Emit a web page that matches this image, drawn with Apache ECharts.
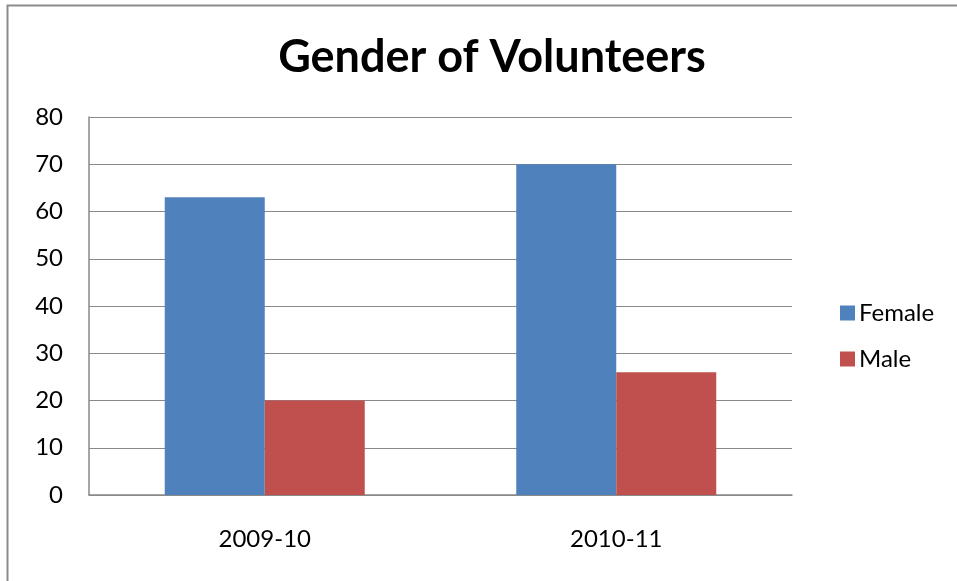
<!DOCTYPE html>
<html>
<head>
<meta charset="utf-8">
<script src="https://cdn.jsdelivr.net/npm/echarts@6/dist/echarts.min.js"></script>
<style>
  html, body { margin: 0; padding: 0; background: #fff; }
  #chart { width: 957px; height: 581px; }
</style>
</head>
<body>
<div id="chart"></div>
<script>
var categories = ["2009-10", "2010-11"];
var female = [63, 70];
var male = [20, 26];
var yTicks = [0, 10, 20, 30, 40, 50, 60, 70, 80];

var font = "Lato";
var myChart = echarts.init(document.getElementById("chart"));

var option = {
    backgroundColor: "#fff",
    animation: false,
    graphic: [
        {
            // outer chart border
            type: "rect",
            shape: { x: 7.5, y: 5.5, width: 980, height: 600 },
            style: { fill: "none", stroke: "#8c8c8c", lineWidth: 2 }
        }
    ],
    title: {
        text: "Gender of Volunteers",
        left: 487,
        textAlign: "center",
        top: 30,
        textStyle: { fontFamily: font, fontSize: 45, fontWeight: "bold", color: "#000" }
    },
    grid: { left: 89, right: 165, top: 117, bottom: 86 },
    legend: {
        orient: "vertical",
        left: 835,
        top: 296,
        itemWidth: 15,
        itemHeight: 15,
        itemGap: 22,
        icon: "rect",
        textStyle: { fontFamily: font, fontSize: 24, color: "#000", padding: [0, 0, 0, -1] },
        data: ["Female", "Male"]
    },
    xAxis: {
        type: "category",
        data: categories,
        axisLine: { lineStyle: { color: "#898989", width: 1.5 } },
        axisTick: { show: false },
        axisLabel: { fontFamily: font, fontSize: 24, color: "#000", margin: 32 }
    },
    yAxis: {
        type: "value",
        min: yTicks[0],
        max: yTicks[yTicks.length - 1],
        interval: 10,
        axisLine: { show: true, lineStyle: { color: "#898989", width: 1.5 } },
        axisTick: { show: false },
        splitLine: { lineStyle: { color: "#898989", width: 1.2 } },
        axisLabel: { fontFamily: font, fontSize: 24, color: "#000", margin: 26 }
    },
    series: [
        {
            name: "Female",
            type: "bar",
            barWidth: 100,
            barGap: 0,
            itemStyle: { color: "#4f81bd" },
            data: female
        },
        {
            name: "Male",
            type: "bar",
            barWidth: 100,
            barGap: 0,
            itemStyle: { color: "#c0504d" },
            data: male
        }
    ]
};
myChart.setOption(option);
</script>
</body>
</html>
